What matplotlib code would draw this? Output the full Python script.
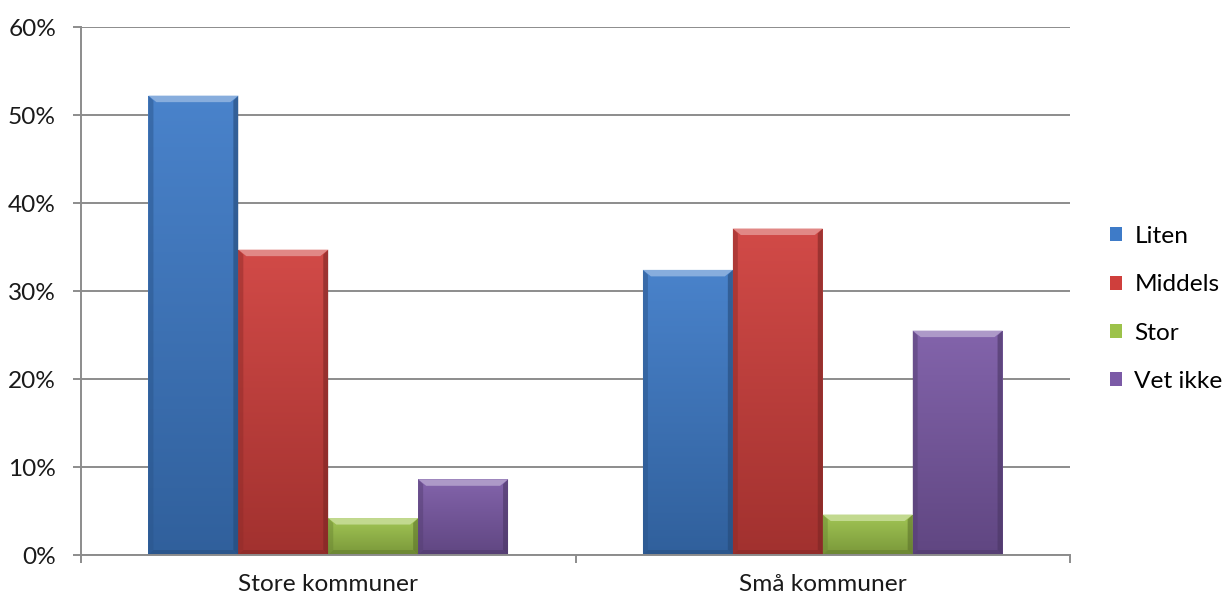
import numpy as np
import matplotlib
matplotlib.use("Agg")
import matplotlib.pyplot as plt
from matplotlib.patches import Polygon, Rectangle
from matplotlib.colors import to_rgb

categories = ["Store kommuner", "Små kommuner"]
series = ["Liten", "Middels", "Stor", "Vet ikke"]
liten = [0.522, 0.324]
middels = [0.347, 0.371]
stor = [0.042, 0.046]
vet_ikke = [0.086, 0.255]
values = [liten, middels, stor, vet_ikke]
yticks = [0.0, 0.1, 0.2, 0.3, 0.4, 0.5, 0.6]
ytick_labels = ["0%", "10%", "20%", "30%", "40%", "50%", "60%"]

colors = ["#3E7BC8", "#CF3F3C", "#9CC24A", "#7B5AA6"]

plt.rcParams['font.family'] = ['Lato', 'DejaVu Sans']
W, H = 1223, 601
FS = 17.6
fig = plt.figure(figsize=(W / 100, H / 100), dpi=100)
ax = fig.add_axes([81 / W, 46 / H, (1070 - 81) / W, (555 - 27) / H])

n = len(series)
group_w = 1.0 / (n + 1.5)
x = np.arange(len(categories))
ax.set_xlim(-0.5, len(categories) - 0.5)
ax.set_ylim(0, 0.6)

px_x = (len(categories)) / (1070 - 81)
px_y = 0.6 / (555 - 27)

def shade(c, f):
    r, g, b = to_rgb(c)
    if f >= 0:
        return (r + (1 - r) * f, g + (1 - g) * f, b + (1 - b) * f)
    return (r * (1 + f), g * (1 + f), b * (1 + f))

grad = np.linspace(0, 1, 256).reshape(-1, 1)
for i, (name, vals) in enumerate(zip(series, values)):
    offs = (i - (n - 1) / 2) * group_w
    bars = ax.bar(x + offs, vals, width=group_w, color=colors[i], label=name,
                  edgecolor="none", zorder=3)
    for p in bars:
        bx, bw, bh = p.get_x(), p.get_width(), p.get_height()
        top_c = np.array(shade(colors[i], 0.06))
        bot_c = np.array(shade(colors[i], -0.22))
        img = top_c[None, None, :] * (1 - grad[..., None]) + bot_c[None, None, :] * grad[..., None]
        img = img[::-1]
        im = ax.imshow(img, extent=[bx, bx + bw, 0, bh], aspect="auto",
                       origin="lower", zorder=3.1, interpolation="bilinear")
        im.set_clip_path(p)
        dx = 5 * px_x
        dy = 5 * px_y
        ax.add_patch(Polygon([[bx, 0], [bx + dx, dy], [bx + dx, bh - dy], [bx, bh]],
                             closed=True, facecolor=shade(colors[i], -0.3), alpha=0.5,
                             edgecolor="none", zorder=3.2))
        ax.add_patch(Polygon([[bx + bw, 0], [bx + bw - dx, dy], [bx + bw - dx, bh - dy], [bx + bw, bh]],
                             closed=True, facecolor=shade(colors[i], -0.4), alpha=0.6,
                             edgecolor="none", zorder=3.2))
        ax.add_patch(Polygon([[bx, bh], [bx + bw, bh], [bx + bw - dx * 1.6, bh - dy * 1.3],
                              [bx + dx * 1.6, bh - dy * 1.3]],
                             closed=True, facecolor=shade(colors[i], 0.38),
                             edgecolor="none", zorder=3.3))
        ax.add_patch(Polygon([[bx, 0], [bx + bw, 0], [bx + bw - dx, dy], [bx + dx, dy]],
                             closed=True, facecolor=shade(colors[i], -0.35), alpha=0.6,
                             edgecolor="none", zorder=3.3))

grid_c = "#8C8C8C"
ax.set_yticks(yticks)
ax.set_yticklabels(ytick_labels)
ax.yaxis.grid(True, color=grid_c, linewidth=1.4, zorder=1)
ax.set_axisbelow(True)
for s in ["top", "right"]:
    ax.spines[s].set_visible(False)
ax.spines["left"].set_color(grid_c)
ax.spines["left"].set_linewidth(1.4)
ax.spines["bottom"].set_color(grid_c)
ax.spines["bottom"].set_linewidth(1.4)
ax.spines["bottom"].set_zorder(4)

ax.tick_params(axis="y", length=6, width=1.4, color=grid_c, pad=12, labelsize=FS,
               labelcolor="#1a1a1a")
ax.set_xticks(x)
ax.set_xticklabels(categories)
ax.tick_params(axis="x", which="major", length=0, pad=14, labelsize=FS, labelcolor="#1a1a1a")
ax.set_xticks(np.arange(len(categories) + 1) - 0.5, minor=True)
ax.tick_params(axis="x", which="minor", length=6, width=1.4, color=grid_c)

handles = [Rectangle((0, 0), 1, 1, facecolor=c, edgecolor="none") for c in colors]
fig.legend(handles, series, loc="upper left", bbox_to_anchor=(1110 / W, 1 - 226 / H),
           frameon=False, fontsize=FS, handlelength=0.5, handleheight=0.5,
           handletextpad=0.5, labelspacing=1.12, borderpad=0, borderaxespad=0)

fig.savefig("out.png", dpi=100)
